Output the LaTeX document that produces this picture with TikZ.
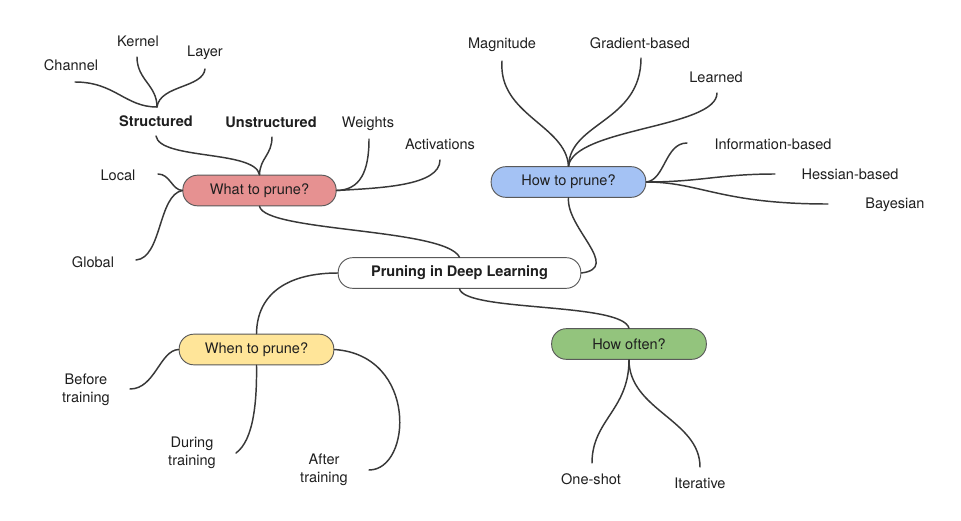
\documentclass[tikz,border=0pt]{standalone}
\usepackage{fontspec}
\setmainfont{TeX Gyre Heros}
\begin{document}
\begin{tikzpicture}[x=0.75pt,y=-0.75pt,
  every node/.style={font=\fontsize{10.9}{13}\selectfont, text=black!88},
  topic/.style={draw=black!65, line width=0.7pt, rounded corners=11pt, minimum height=23pt, inner sep=0pt},
  leaf/.style={align=center, inner sep=1pt},
  twoline/.style={font=\fontsize{10.9}{13.5}\selectfont},
  branch/.style={draw=black!78, line width=1.1pt, line cap=round}]
\fill[white] (0,0) rectangle (961,521);
\path[use as bounding box] (0,0) rectangle (961,521);

% main topics
\node[topic, fill=white, minimum width=182pt, font=\fontsize{10.9}{13}\selectfont\bfseries] (central) at (459.5,273) {Pruning in Deep Learning};
\node[topic, fill={rgb,255:red,230;green,145;blue,145}, minimum width=115pt] (what) at (259.5,190.5) {What to prune?};
\node[topic, fill={rgb,255:red,164;green,194;blue,244}, minimum width=116pt] (how) at (568.5,182) {How to prune?};
\node[topic, fill={rgb,255:red,255;green,229;blue,153}, minimum width=116pt] (when) at (256.5,349.5) {When to prune?};
\node[topic, fill={rgb,255:red,147;green,196;blue,125}, minimum width=116pt] (often) at (629,344) {How often?};

% leaves
\node[leaf] (channel) at (71,65) {Channel};
\node[leaf] (kernel) at (138,41) {Kernel};
\node[leaf] (layer) at (205,53) {Layer};
\node[leaf, font=\fontsize{10.9}{13}\selectfont\bfseries] (structured) at (156,121) {Structured};
\node[leaf, font=\fontsize{10.9}{13}\selectfont\bfseries] (unstructured) at (271,122) {Unstructured};
\node[leaf] (weights) at (368,124) {Weights};
\node[leaf] (activations) at (440,144) {Activations};
\node[leaf] (local) at (118,175) {Local};
\node[leaf] (global) at (93,262) {Global};
\node[leaf] (magnitude) at (502,45) {Magnitude};
\node[leaf] (gradient) at (640,43) {Gradient-based};
\node[leaf] (learned) at (716,77) {Learned};
\node[leaf] (info) at (773,144) {Information-based};
\node[leaf] (hessian) at (850,174) {Hessian-based};
\node[leaf] (bayesian) at (895,205) {Bayesian};
\node[leaf, twoline] (before) at (86,390) {Before\\training};
\node[leaf, twoline] (during) at (192,453) {During\\training};
\node[leaf, twoline] (after) at (324,470) {After\\training};
\node[leaf] (oneshot) at (591,479) {One-shot};
\node[leaf] (iterative) at (700,483) {Iterative};

% free ends of connectors
\coordinate (channel-e) at (75,82);
\coordinate (kernel-e) at (137,57);
\coordinate (layer-e) at (205,69);
\coordinate (sj) at (157,107);
\coordinate (structured-e) at (156,136);
\coordinate (unstructured-e) at (272,137);
\coordinate (weights-e) at (369,139);
\coordinate (activations-e) at (440,160);
\coordinate (local-e) at (158,174);
\coordinate (global-e) at (136,260);
\coordinate (magnitude-e) at (502,61);
\coordinate (gradient-e) at (641,58);
\coordinate (learned-e) at (717,93);
\coordinate (info-e) at (687,143);
\coordinate (hessian-e) at (775,174);
\coordinate (bayesian-e) at (828,204);
\coordinate (before-e) at (130,389);
\coordinate (during-e) at (236,453);
\coordinate (after-e) at (369,470);
\coordinate (oneshot-e) at (592,463);
\coordinate (iterative-e) at (700,467);

% What to prune
\draw[branch] (channel-e) .. controls (115,82) and (125,107) .. (sj);
\draw[branch] (kernel-e) .. controls (137,80) and (157,85) .. (sj);
\draw[branch] (layer-e) .. controls (203,88) and (160,85) .. (sj);
\draw[branch] (structured-e) .. controls (160,160) and (255,150) .. (what.north);
\draw[branch] (unstructured-e) .. controls (272,155) and (260,158) .. (what.north);
\draw[branch] (weights-e) .. controls (369,172) and (360,190) .. (what.east);
\draw[branch] (activations-e) .. controls (440,186) and (380,188) .. (what.east);
\draw[branch] (local-e) .. controls (170,174) and (172,190) .. (what.west);
\draw[branch] (global-e) .. controls (162,258) and (158,195) .. (what.west);

% central
\draw[branch] (what.south) .. controls (265,232) and (445,228) .. (central.north);
\draw[branch] (central.east) .. controls (622,268) and (566,228) .. (how.south);
\draw[branch] (central.west) .. controls (290,273) and (257,292) .. (when.north);
\draw[branch] (central.south) .. controls (465,312) and (622,302) .. (often.north);

% How to prune
\draw[branch] (magnitude-e) .. controls (498,115) and (566,125) .. (how.north);
\draw[branch] (gradient-e) .. controls (641,122) and (570,122) .. (how.north);
\draw[branch] (learned-e) .. controls (717,128) and (574,128) .. (how.north);
\draw[branch] (info-e) .. controls (665,143) and (665,180) .. (how.east);
\draw[branch] (hessian-e) .. controls (720,174) and (700,182) .. (how.east);
\draw[branch] (bayesian-e) .. controls (720,204) and (700,182) .. (how.east);

% When to prune
\draw[branch] (before-e) .. controls (155,389) and (160,350) .. (when.west);
\draw[branch] (during-e) .. controls (254,440) and (257,400) .. (when.south);
\draw[branch] (after-e) .. controls (412,470) and (418,355) .. (when.east);

% How often
\draw[branch] (often.south) .. controls (629,410) and (592,420) .. (oneshot-e);
\draw[branch] (often.south) .. controls (629,410) and (700,420) .. (iterative-e);
\end{tikzpicture}
\end{document}
